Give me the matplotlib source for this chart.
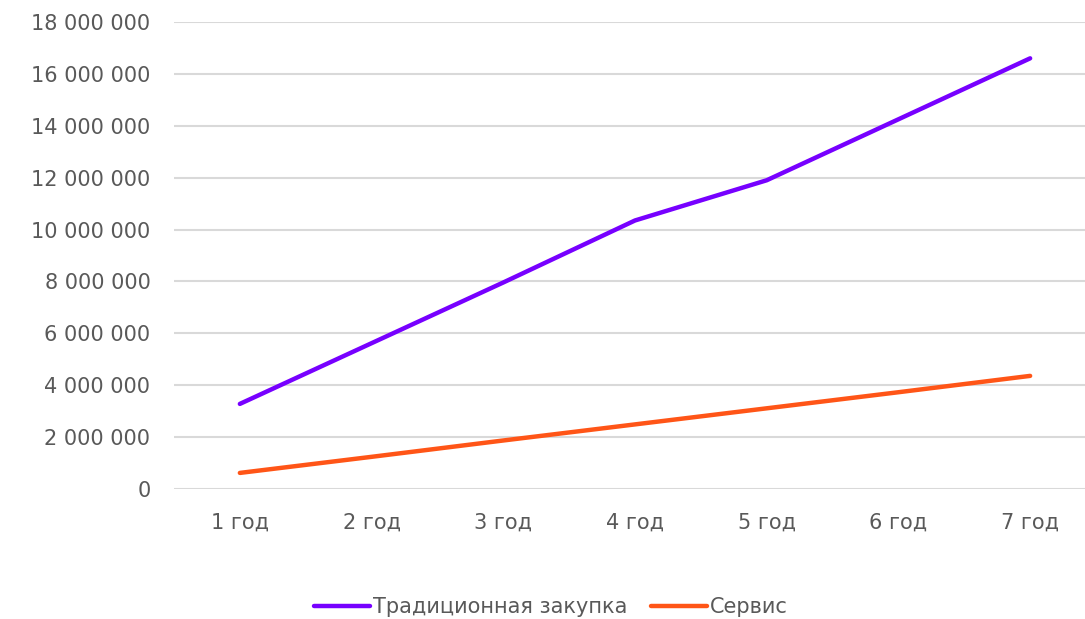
import matplotlib
matplotlib.use("Agg")
import matplotlib.pyplot as plt
from matplotlib.ticker import FuncFormatter, MultipleLocator

categories = ["1 год", "2 год", "3 год", "4 год", "5 год", "6 год", "7 год"]
traditional = [3_280_000, 5_620_000, 7_960_000, 10_350_000, 11_900_000, 14_250_000, 16_600_000]
service = [620_000, 1_240_000, 1_870_000, 2_490_000, 3_110_000, 3_730_000, 4_360_000]
series_names = ["Традиционная закупка", "Сервис"]

plt.rcParams["font.family"] = ["DejaVu Sans"]
text_color = "#595959"

fig = plt.figure(figsize=(10.85, 6.19), dpi=100)
ax = fig.add_axes([174 / 1085, 130 / 619, 922 / 1085, 467 / 619])

x = range(len(categories))
ax.plot(x, traditional, color="#7700FF", lw=3.2, solid_capstyle="round", label=series_names[0])
ax.plot(x, service, color="#FF5517", lw=3.2, solid_capstyle="round", label=series_names[1])

ax.set_xlim(-0.5, len(categories) - 0.5)
ax.set_ylim(0, 18_000_000)
ax.yaxis.set_major_locator(MultipleLocator(2_000_000))
ax.yaxis.set_major_formatter(FuncFormatter(lambda v, _: f"{int(v):,}".replace(",", " ")))
ax.set_xticks(list(x))
ax.set_xticklabels(categories)

ax.grid(axis="y", color="#D9D9D9", lw=1.5)
ax.set_axisbelow(True)
for s in ax.spines.values():
    s.set_visible(False)
ax.tick_params(axis="both", length=0, labelsize=15, labelcolor=text_color)
ax.tick_params(axis="y", pad=17)
ax.tick_params(axis="x", pad=17)

fig.legend(loc="center", bbox_to_anchor=(551 / 1085, 1 - 607 / 619), ncol=2, frameon=False,
           fontsize=15, labelcolor=text_color, handlelength=2.7, handletextpad=0.15,
           columnspacing=1.1)

fig.savefig("out.png", dpi=100)
